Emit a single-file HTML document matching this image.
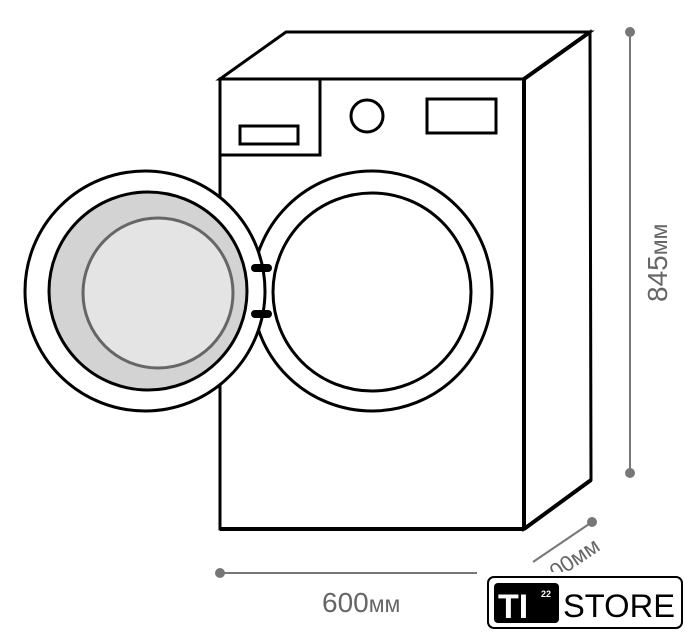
<!DOCTYPE html>
<html><head><meta charset="utf-8"><style>
html,body{margin:0;padding:0;background:#fff;width:694px;height:640px;overflow:hidden}
svg{display:block}
</style></head><body>
<svg width="694" height="640" viewBox="0 0 694 640" xmlns="http://www.w3.org/2000/svg">
<g fill="none" stroke="#000" stroke-width="3" stroke-linejoin="miter">
  <polygon points="220,79 286,32 590,32 524,79" fill="#fff"/>
  <polygon points="524,79 590,32 591,480 524,529" fill="#fff"/>
  <rect x="220" y="79" width="304" height="450" fill="#fff"/>
  <line x1="524" y1="79" x2="524" y2="529" stroke-width="4"/>
  <line x1="524" y1="79" x2="590" y2="32" stroke-width="4"/>
  <line x1="220" y1="529" x2="524" y2="529" stroke-width="4"/>
  <line x1="524" y1="529" x2="591" y2="480" stroke-width="4"/>
  <rect x="220" y="79" width="100" height="76"/>
  <rect x="240" y="126" width="58" height="18"/>
  <circle cx="367" cy="116" r="16"/>
  <rect x="427" y="99" width="69" height="34"/>
  <circle cx="372" cy="291" r="120" fill="#fff"/>
  <circle cx="372" cy="292" r="99"/>
  <circle cx="145" cy="291" r="120" fill="#fff"/>
  <circle cx="148" cy="291" r="99" fill="#d3d3d3"/>
  <circle cx="158" cy="293" r="75" fill="#e4e4e4" stroke="#666"/>
  <line x1="255" y1="268" x2="268" y2="268" stroke-width="8" stroke-linecap="round"/>
  <line x1="255" y1="314" x2="268" y2="314" stroke-width="8" stroke-linecap="round"/>
</g>
<g stroke="#777" stroke-width="2" fill="#777">
  <line x1="630" y1="32" x2="630" y2="473"/>
  <circle cx="630" cy="32" r="4"/><circle cx="630" cy="473" r="4"/>
  <line x1="220" y1="573" x2="477" y2="573"/>
  <circle cx="220" cy="573" r="4"/>
  <line x1="533" y1="562" x2="592" y2="522"/>
  <circle cx="592" cy="522" r="4"/>
</g>
<g font-family="Liberation Sans, sans-serif" fill="#666">
  <text x="322" y="612" font-size="28">600<tspan font-size="23">мм</tspan></text>
  <text transform="translate(667,302) rotate(-90)" font-size="28">845<tspan font-size="23">мм</tspan></text>
  <text transform="translate(556,580) rotate(-34)" font-size="22">00мм</text>
</g>
<rect x="480" y="572" width="214" height="68" fill="#fff"/>
<rect x="488" y="577" width="194" height="51" rx="6" fill="#fff" stroke="#000" stroke-width="2"/>
<rect x="494" y="583" width="65" height="40" rx="4" fill="#000"/>
<text x="498" y="618" font-family="Liberation Sans, sans-serif" font-weight="bold" font-size="34" fill="#fff">TI</text>
<text x="541" y="597" font-family="Liberation Sans, sans-serif" font-weight="bold" font-size="9" fill="#fff">22</text>
<text x="563" y="617" font-family="Liberation Sans, sans-serif" font-size="32" fill="#000" textLength="112" lengthAdjust="spacingAndGlyphs">STORE</text>
</svg>
</body></html>
